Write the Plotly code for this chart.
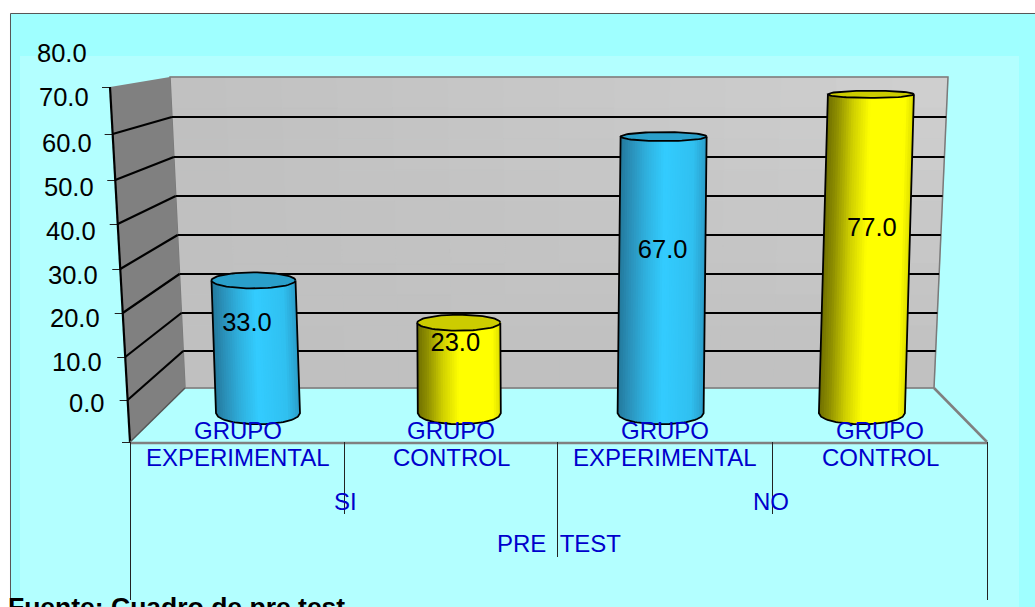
import numpy as np
import plotly.graph_objects as go

# ---- data ----
values = [33.0, 23.0, 67.0, 77.0]
groups = ["SI", "SI", "NO", "NO"]
categories = ["GRUPO<br>EXPERIMENTAL", "GRUPO<br>CONTROL", "GRUPO<br>EXPERIMENTAL", "GRUPO<br>CONTROL"]
group_labels = ["SI", "NO"]
outer_label = "PRE  TEST"
y_ticks = ["80.0", "70.0", "60.0", "50.0", "40.0", "30.0", "20.0", "10.0", "0.0"]
source = "Fuente: Cuadro de pre test"

# ---- styling / layout ----
W, H = 1035, 607
PX_X0, PX_DX = 258.0, 201.3      # pixels of category 0, pixels per category
PX_Y0, PX_DY = 420.0, 4.23       # pixels of value 0, pixels per unit
BASE = 1.6                       # where the cylinder sides end
half_w = [42, 41.5, 43, 43]
lean = [-4.5, -0.5, 3.0, 9.0]    # horizontal perspective shift at top (px)
top_semi = [8.0, 8.0, 4.5, 3.6]  # semi-minor of top ellipse (px)
bot_semi = 11
fill_stops = {
    "b": [(0, "#23789b"), (.12, "#2a8fb8"), (.3, "#2fb0dd"), (.52, "#33ccff"), (.85, "#30c0f0"), (1, "#2a9cc8")],
    "y": [(0, "#6f6f00"), (.12, "#8f8f00"), (.3, "#cfcf00"), (.5, "#ffff00"), (.9, "#ffff00"), (1, "#dcdc00")],
}
top_col = {"b": "#2a9fca", "y": "#cccc00"}
kinds = ["b", "y", "b", "y"]
label_v = [22.5, 17.8, 39.8, 45.0]
label_dx = [-11, -4, 2, 10]
tick_right = [89, 91, 94, 96, 98, 100, 102, 104, 106]
tick_y = [53, 97, 143, 187, 231, 275, 318, 362, 403]
wall_y = [77, 117, 157, 196, 235, 274, 313, 351, 388]
front_y = [87, 134, 180, 224, 269, 313, 357, 400, 442]
BLUE = "#0000cc"
FONT = "Liberation Sans, Arial, sans-serif"


def px(x):
    return x / W


def py(y):
    return 1 - y / H


def xv(p):
    return (p - PX_X0) / PX_DX


def yv(p):
    return (PX_Y0 - p) / PX_DY


def poly(pts, fill, line=None, width=0, layer="below"):
    path = "M " + " L ".join(f"{px(a):.5f},{py(b):.5f}" for a, b in pts) + " Z"
    return dict(type="path", path=path, xref="paper", yref="paper", fillcolor=fill, layer=layer,
                line=dict(color=line or fill, width=width))


def seg(a, b, c, d, color="black", width=1):
    return dict(type="line", x0=px(a), y0=py(b), x1=px(c), y1=py(d), xref="paper", yref="paper",
                layer="below", line=dict(color=color, width=width))


def lerp_color(stops, t):
    for (t0, c0), (t1, c1) in zip(stops, stops[1:]):
        if t <= t1:
            f = (t - t0) / (t1 - t0)
            a = [int(c0[i:i + 2], 16) for i in (1, 3, 5)]
            b = [int(c1[i:i + 2], 16) for i in (1, 3, 5)]
            return "rgb(%d,%d,%d)" % tuple(round(p + (q - p) * f) for p, q in zip(a, b))
    return stops[-1][1]


shapes = [
    poly([(10.5, 13.5), (W + 2, 13.5), (W + 2, H + 2), (10.5, H + 2)], "#9fffff", "#555555", 1),
    poly([(20, 56), (1019, 56), (1019, H + 2), (20, H + 2)], "#b3ffff"),
]


# softly lit back wall
def wall_pt(u, v):
    yy = 77 + 311 * v
    xl = 170 + 15 * v
    xr = 948 - 14 * v
    return (xl + (xr - xl) * u, yy)


NU, NV = 14, 10
for iu in range(NU):
    for iv in range(NV):
        u0, u1, v0, v1 = iu / NU, (iu + 1) / NU, iv / NV, (iv + 1) / NV
        g = round(192 + 16 * ((u0 + u1) / 2) * (1 - (v0 + v1) / 2))
        col = f"rgb({g},{g},{g})"
        shapes.append(poly([wall_pt(u0, v0), wall_pt(u1, v0), wall_pt(u1, v1), wall_pt(u0, v1)], col, col, 1))
shapes.append(dict(type="path", xref="paper", yref="paper", layer="below", fillcolor="rgba(0,0,0,0)",
                   line=dict(color="#7a7a7a", width=1.5),
                   path="M " + " L ".join(f"{px(a):.5f},{py(b):.5f}" for a, b in
                                          [(170, 77), (948, 77), (934, 388), (185, 388)]) + " Z"))
shapes.append(poly([(110, 87), (170, 77), (185, 388), (130, 442)], "#808080"))
for wy, fy in zip(wall_y[1:-1], front_y[1:-1]):
    xl = 170 + 15 * (wy - 77) / 311
    xr = 948 - 14 * (wy - 77) / 311
    xf = 110 + 20 * (fy - 87) / 355
    shapes.append(seg(xl, wy, xr, wy, "#000000", 2.2))
    shapes.append(seg(xf, fy, xl, wy, "#000000", 2.2))
for fy in front_y:
    xf = 110 + 20 * (fy - 87) / 355
    shapes.append(seg(xf - 8, fy + 0.5, xf, fy + 0.5, "#222222", 1))
shapes += [
    seg(110, 87, 130, 442, "#000000", 2.2),
    seg(130, 442, 185, 388, "#555555", 1.5),
    seg(130, 443, 987, 443, "#808080", 2.5),
    seg(934, 388, 987, 442, "#808080", 2.5),
    seg(130.5, 442, 130.5, 600, "#222222"),
    seg(987.5, 442, 987.5, 600, "#222222"),
    seg(344.5, 442, 344.5, 514, "#222222"),
    seg(557.5, 442, 557.5, 557, "#222222"),
    seg(772.5, 442, 772.5, 514, "#222222"),
]

fig = go.Figure()


def add_poly(xs, ys, fill, line=None, width=0):
    fig.add_trace(go.Scatter(x=xs, y=ys, mode="lines", fill="toself", fillcolor=fill,
                             line=dict(color=line or fill, width=width), hoverinfo="skip", showlegend=False))


for i, v in enumerate(values):
    kind = kinds[i]
    hw_x = half_w[i] / PX_DX
    lean_x = lean[i] / PX_DX
    bs = bot_semi / PX_DY
    ts = top_semi[i] / PX_DY
    n = 36
    arc_u = np.linspace(1, -1, 41)
    for k in range(n):
        u0 = -1 + 2 * k / n
        t = (k + .5) / n
        au = arc_u[arc_u >= u0]
        au = np.append(au, u0)
        xs = [i + lean_x + hw_x * u0, i + lean_x + hw_x] + list(i + hw_x * au)
        ys = [v, v] + list(BASE - bs * np.sqrt(np.clip(1 - au ** 2, 0, 1)))
        add_poly(xs, ys, lerp_color(fill_stops[kind], t))
    # outline of sides and bottom
    au = np.linspace(1, -1, 41)
    ox = [i + lean_x + hw_x] + list(i + hw_x * au) + [i + lean_x - hw_x]
    oy = [v] + list(BASE - bs * np.sqrt(1 - au ** 2)) + [v]
    fig.add_trace(go.Scatter(x=ox, y=oy, mode="lines", line=dict(color="#000000", width=1.8),
                             hoverinfo="skip", showlegend=False))
    th = np.linspace(0, 2 * np.pi, 73)
    add_poly(i + lean_x + hw_x * np.cos(th), v + ts * np.sin(th), top_col[kind], "#000000", 1.8)

fig.add_trace(go.Scatter(
    x=[i + d / PX_DX for i, d in enumerate(label_dx)],
    y=label_v, mode="text", text=[f"{v:.1f}" for v in values],
    textposition="middle center", textfont=dict(family=FONT, size=25.5, color="#000000"),
    hoverinfo="skip", showlegend=False))

ann = []
for lab, r, y in zip(y_ticks, tick_right, tick_y):
    ann.append(dict(text=lab, x=px(r), y=py(y), xref="paper", yref="paper", xanchor="right", yanchor="middle",
                    showarrow=False, font=dict(family=FONT, size=25.5, color="#000000")))
cat_cx = [238, 451, 665, 880]


def blue(text, cx, y):
    return dict(text=text, x=px(cx), y=py(y), xref="paper", yref="paper", showarrow=False,
                xanchor="center", yanchor="middle", font=dict(family=FONT, size=24, color=BLUE))


for c, cx in zip(categories, cat_cx):
    a, b = c.split("<br>")
    ann.append(blue(a, cx, 430))
    ann.append(blue(b, cx, 457))
for g, cx in zip(group_labels, [345, 771]):
    ann.append(blue(g, cx, 501))
ann.append(blue(outer_label.replace(" ", "&nbsp;"), 559, 543))
ann.append(dict(text=f"<b>{source}</b>", x=px(6), y=py(607), xref="paper", yref="paper", showarrow=False,
                xanchor="left", yanchor="middle", font=dict(family=FONT, size=26.5, color="#000000")))

fig.update_layout(
    width=W, height=H, margin=dict(l=0, r=0, t=0, b=0, pad=0),
    paper_bgcolor="white", plot_bgcolor="rgba(0,0,0,0)", showlegend=False,
    shapes=shapes, annotations=ann,
    xaxis=dict(range=[xv(0), xv(W)], visible=False, fixedrange=True),
    yaxis=dict(range=[yv(H), yv(0)], visible=False, fixedrange=True),
)
fig.write_html("out.html", config={"displayModeBar": False},
               post_script="document.body.style.margin='0';document.body.style.overflow='hidden';")
